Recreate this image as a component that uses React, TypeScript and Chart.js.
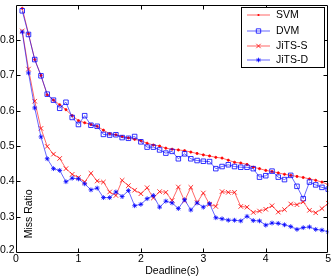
import React, { useEffect, useRef } from 'react';
import { Chart, registerables } from 'chart.js';

Chart.register(...registerables);

const deadlines = [
  0.1, 0.2, 0.3, 0.4, 0.5, 0.6, 0.7, 0.8, 0.9, 1.0,
  1.1, 1.2, 1.3, 1.4, 1.5, 1.6, 1.7, 1.8, 1.9, 2.0,
  2.1, 2.2, 2.3, 2.4, 2.5, 2.6, 2.7, 2.8, 2.9, 3.0,
  3.1, 3.2, 3.3, 3.4, 3.5, 3.6, 3.7, 3.8, 3.9, 4.0,
  4.1, 4.2, 4.3, 4.4, 4.5, 4.6, 4.7, 4.8, 4.9, 5.0,
];

const svm = [
  0.890, 0.818, 0.745, 0.700, 0.645, 0.630, 0.617, 0.603, 0.586, 0.572,
  0.566, 0.561, 0.556, 0.545, 0.535, 0.532, 0.527, 0.523, 0.519, 0.515,
  0.508, 0.503, 0.500, 0.494, 0.491, 0.489, 0.487, 0.483, 0.479, 0.475,
  0.472, 0.468, 0.466, 0.460, 0.454, 0.452, 0.448, 0.440, 0.436, 0.431,
  0.428, 0.424, 0.420, 0.417, 0.414, 0.411, 0.407, 0.403, 0.398, 0.391,
];

const dvm = [
  0.883, 0.816, 0.745, 0.699, 0.647, 0.630, 0.607, 0.624, 0.581, 0.561,
  0.586, 0.559, 0.556, 0.533, 0.531, 0.532, 0.524, 0.522, 0.527, 0.512,
  0.497, 0.497, 0.489, 0.480, 0.485, 0.464, 0.478, 0.464, 0.459, 0.457,
  0.456, 0.436, 0.442, 0.447, 0.442, 0.440, 0.440, 0.436, 0.412, 0.416,
  0.429, 0.412, 0.405, 0.417, 0.386, 0.351, 0.398, 0.390, 0.383, 0.378,
];

const jitsS = [
  0.826, 0.718, 0.627, 0.550, 0.499, 0.477, 0.465, 0.436, 0.420, 0.411,
  0.398, 0.423, 0.401, 0.398, 0.370, 0.360, 0.403, 0.388, 0.375, 0.365,
  0.382, 0.353, 0.371, 0.369, 0.346, 0.384, 0.345, 0.383, 0.340, 0.367,
  0.335, 0.329, 0.371, 0.369, 0.369, 0.329, 0.327, 0.312, 0.316, 0.321,
  0.331, 0.313, 0.320, 0.336, 0.334, 0.342, 0.318, 0.311, 0.323, 0.338,
];

const jitsD = [
  0.823, 0.707, 0.608, 0.526, 0.464, 0.436, 0.431, 0.399, 0.409, 0.407,
  0.393, 0.376, 0.381, 0.354, 0.354, 0.370, 0.357, 0.374, 0.331, 0.335,
  0.351, 0.360, 0.327, 0.344, 0.339, 0.323, 0.348, 0.319, 0.339, 0.327,
  0.337, 0.297, 0.294, 0.290, 0.290, 0.288, 0.301, 0.289, 0.288, 0.276,
  0.282, 0.281, 0.277, 0.272, 0.264, 0.269, 0.271, 0.264, 0.262, 0.257,
];

const xTicks = [0, 1, 2, 3, 4, 5];
const yTicks = [0.2, 0.3, 0.4, 0.5, 0.6, 0.7, 0.8];
const yTickLabels = ['0.2', '0.3', '0.4', '0.5', '0.6', '0.7', '0.8'];
const seriesNames = ['SVM', 'DVM', 'JiTS-S', 'JiTS-D'];
const seriesColors = ['rgb(255,0,0)', 'rgb(0,0,255)', 'rgb(255,0,0)', 'rgb(0,0,255)'];
const seriesMarkers = ['dot', 'square', 'x', 'star'];
const xTitle = 'Deadline(s)';
const yTitle = 'Miss Ratio';

const FONT_FAMILY = '"Liberation Sans", Arial, Helvetica, sans-serif';
const FONT_SIZE = 10.5;
const LINE_W = 0.6;

function drawMarker(ctx: CanvasRenderingContext2D, kind: string, x: number, y: number, color: string) {
  ctx.save();
  ctx.strokeStyle = color;
  ctx.fillStyle = color;
  ctx.lineWidth = 0.8;
  ctx.beginPath();
  if (kind === 'dot') {
    ctx.arc(x, y, 1.1, 0, Math.PI * 2);
    ctx.fill();
  } else if (kind === 'square') {
    ctx.rect(x - 2.2, y - 2.2, 4.4, 4.4);
    ctx.stroke();
  } else if (kind === 'x') {
    ctx.moveTo(x - 2.2, y - 2.2); ctx.lineTo(x + 2.2, y + 2.2);
    ctx.moveTo(x + 2.2, y - 2.2); ctx.lineTo(x - 2.2, y + 2.2);
    ctx.stroke();
  } else {
    ctx.moveTo(x - 2.3, y); ctx.lineTo(x + 2.3, y);
    ctx.moveTo(x, y - 2.3); ctx.lineTo(x, y + 2.3);
    ctx.moveTo(x - 1.6, y - 1.6); ctx.lineTo(x + 1.6, y + 1.6);
    ctx.moveTo(x + 1.6, y - 1.6); ctx.lineTo(x - 1.6, y + 1.6);
    ctx.stroke();
  }
  ctx.restore();
}

const framePlugin = {
  id: 'matlabFrame',
  afterDraw(chart: any) {
    const { ctx, chartArea: a, scales } = chart;
    const L = Math.round(a.left) + 0.5;
    const R = Math.round(a.right) - 0.5;
    const T = Math.round(a.top) + 0.5;
    const B = Math.round(a.bottom) + 0.5;
    ctx.save();
    ctx.strokeStyle = '#000';
    ctx.lineWidth = 1;
    ctx.beginPath();
    ctx.rect(L, T, R - L, B - T);
    ctx.stroke();
    const tl = 4;
    ctx.beginPath();
    xTicks.forEach((v) => {
      const px = Math.round(scales.x.getPixelForValue(v)) + 0.5;
      if (px <= L + 1 || px >= R - 1) return;
      ctx.moveTo(px, B); ctx.lineTo(px, B - tl);
      ctx.moveTo(px, T); ctx.lineTo(px, T + tl);
    });
    yTicks.forEach((v) => {
      const py = Math.round(scales.y.getPixelForValue(v)) + 0.5;
      if (py <= T + 1 || py >= B - 1) return;
      ctx.moveTo(L, py); ctx.lineTo(L + tl, py);
      ctx.moveTo(R, py); ctx.lineTo(R - tl, py);
    });
    ctx.stroke();

    // y tick labels
    ctx.fillStyle = '#000';
    ctx.font = `${FONT_SIZE}px ${FONT_FAMILY}`;
    ctx.textAlign = 'right';
    ctx.textBaseline = 'middle';
    yTicks.forEach((v, i) => {
      let py = scales.y.getPixelForValue(v);
      if (i === 0) py -= 2;
      ctx.fillText(yTickLabels[i], a.left - 1.5, py);
    });

    // y axis title (inside plot area, as in the reference)
    ctx.save();
    ctx.translate(a.left + 13.5, a.top + 209);
    ctx.rotate(-Math.PI / 2);
    ctx.textAlign = 'center';
    ctx.textBaseline = 'middle';
    ctx.fillText(yTitle, 0, 0);
    ctx.restore();

    // legend box
    const bx = 241.5, by = 7.5, bw = 83, bh = 60;
    ctx.fillStyle = '#fff';
    ctx.fillRect(bx, by, bw, bh);
    ctx.strokeStyle = '#000';
    ctx.lineWidth = 1;
    ctx.strokeRect(bx, by, bw, bh);
    const rows = [15, 31, 46, 60];
    seriesNames.forEach((name, i) => {
      const y = rows[i];
      ctx.save();
      ctx.strokeStyle = seriesColors[i];
      ctx.lineWidth = LINE_W;
      ctx.beginPath();
      ctx.moveTo(247, y); ctx.lineTo(270, y);
      ctx.stroke();
      ctx.restore();
      drawMarker(ctx, seriesMarkers[i], 258.5, y, seriesColors[i]);
      ctx.fillStyle = '#000';
      ctx.textAlign = 'left';
      ctx.textBaseline = 'middle';
      ctx.font = `${FONT_SIZE}px ${FONT_FAMILY}`;
      ctx.fillText(name, 276, y + 0.5);
    });
    ctx.restore();
  },
};

const pointStyleFor: Record<string, any> = {
  dot: 'circle',
  square: 'rect',
  x: 'crossRot',
  star: 'star',
};
const pointRadiusFor: Record<string, number> = {
  dot: 1.1,
  square: 3.2,
  x: 3.2,
  star: 2.4,
};

export default function App() {
  const canvasRef = useRef<HTMLCanvasElement | null>(null);

  useEffect(() => {
    document.body.style.margin = '0';
    const canvas = canvasRef.current;
    if (!canvas) return;
    const seriesValues = [svm, dvm, jitsS, jitsD];
    const datasets = seriesValues.map((vals, i) => ({
      label: seriesNames[i],
      data: deadlines.map((d, j) => ({ x: d, y: vals[j] })),
      borderColor: seriesColors[i],
      backgroundColor: seriesMarkers[i] === 'dot' ? seriesColors[i] : 'rgba(0,0,0,0)',
      borderWidth: LINE_W,
      pointStyle: pointStyleFor[seriesMarkers[i]],
      pointRadius: pointRadiusFor[seriesMarkers[i]],
      pointBorderWidth: 0.8,
      pointBorderColor: seriesColors[i],
      pointBackgroundColor: seriesMarkers[i] === 'dot' ? seriesColors[i] : 'rgba(0,0,0,0)',
      tension: 0,
      fill: false,
      order: 4 - i,
    }));

    const font = { family: FONT_FAMILY, size: FONT_SIZE };
    const chart = new Chart(canvas, {
      type: 'line',
      data: { datasets } as any,
      options: {
        responsive: false,
        animation: false,
        events: [],
        layout: { padding: { top: 4, right: 4, left: 0, bottom: 0 } },
        plugins: {
          legend: { display: false },
          tooltip: { enabled: false },
          title: { display: false },
        },
        scales: {
          x: {
            type: 'linear',
            min: 0,
            max: 5,
            grid: { display: false, drawTicks: false },
            border: { display: false },
            afterBuildTicks: (s: any) => {
              s.ticks = xTicks.map((v) => ({ value: v }));
            },
            ticks: {
              font,
              color: '#000',
              padding: 1,
              maxRotation: 0,
              autoSkip: false,
              callback: (v: any) => String(v),
            },
            title: {
              display: true,
              text: xTitle,
              font,
              color: '#000',
              padding: { top: 0, bottom: 0 },
            },
            afterFit: (s: any) => {
              s.height = 25;
              s.paddingLeft = 0;
              s.paddingRight = 0;
            },
          },
          y: {
            type: 'linear',
            min: 0.2,
            max: 0.9,
            grid: { display: false, drawTicks: false },
            border: { display: false },
            afterBuildTicks: (s: any) => {
              s.ticks = yTicks.map((v) => ({ value: v }));
            },
            ticks: { display: false },
            afterFit: (s: any) => {
              s.width = 16;
              s.paddingTop = 0;
              s.paddingBottom = 0;
            },
          },
        },
      } as any,
      plugins: [framePlugin],
    });
    return () => chart.destroy();
  }, []);

  return (
    <div style={{ width: 333, height: 277 }}>
      <canvas ref={canvasRef} width={333} height={277} style={{ display: 'block' }} />
    </div>
  );
}
